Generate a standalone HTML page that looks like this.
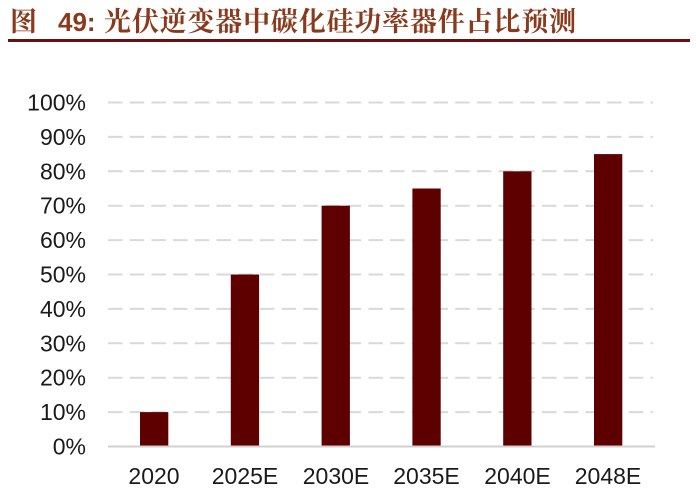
<!DOCTYPE html>
<html><head><meta charset="utf-8">
<style>
html,body{margin:0;padding:0;background:#fff;}
body{width:696px;height:502px;overflow:hidden;position:relative;}
svg{position:absolute;left:0;top:0;}
</style></head>
<body>
<svg width="696" height="502" viewBox="0 0 696 502" xmlns="http://www.w3.org/2000/svg">
  <rect width="696" height="502" fill="#fff"/>
  <!-- title -->
  <text x="10" y="31" font-family="'Noto Serif CJK SC','Noto Sans CJK SC',serif" font-weight="700" font-size="27" fill="#8a3a1c">图</text>
  <text x="58" y="31" font-family="'Liberation Sans',sans-serif" font-weight="700" font-size="26" fill="#8a3a1c">49:</text>
  <text x="104" y="31" font-family="'Liberation Sans','Noto Serif CJK SC',serif" font-weight="700" font-size="27" textLength="472" lengthAdjust="spacing" fill="#8a3a1c">光伏逆变器中碳化硅功率器件占比预测</text>
  <rect x="8" y="39" width="682" height="3" fill="#6a1010"/>

  <!-- gridlines -->
  <g stroke="#d9d9d9" stroke-width="2" stroke-dasharray="14.5,7.2">
    <line x1="108" y1="102.5" x2="653" y2="102.5"/>
    <line x1="108" y1="136.9" x2="653" y2="136.9"/>
    <line x1="108" y1="171.3" x2="653" y2="171.3"/>
    <line x1="108" y1="205.7" x2="653" y2="205.7"/>
    <line x1="108" y1="240.1" x2="653" y2="240.1"/>
    <line x1="108" y1="274.5" x2="653" y2="274.5"/>
    <line x1="108" y1="308.9" x2="653" y2="308.9"/>
    <line x1="108" y1="343.3" x2="653" y2="343.3"/>
    <line x1="108" y1="377.7" x2="653" y2="377.7"/>
    <line x1="108" y1="412.1" x2="653" y2="412.1"/>
  </g>

  <!-- bars -->
  <g fill="#5e0000">
    <rect x="140" y="412.1" width="28.3" height="34.4"/>
    <rect x="230.8" y="274.5" width="28.3" height="172"/>
    <rect x="321.6" y="205.7" width="28.3" height="240.8"/>
    <rect x="412.4" y="188.5" width="28.3" height="258"/>
    <rect x="503.2" y="171.3" width="28.3" height="275.2"/>
    <rect x="594" y="154.1" width="28.3" height="292.4"/>
  </g>

  <!-- axis -->
  <line x1="108" y1="446.5" x2="655" y2="446.5" stroke="#d0d0d0" stroke-width="2"/>

  <!-- y labels -->
  <g font-family="'Liberation Sans',sans-serif" font-size="23" fill="#1a1a1a" text-anchor="end">
    <text x="86" y="110.5">100%</text>
    <text x="86" y="144.9">90%</text>
    <text x="86" y="179.3">80%</text>
    <text x="86" y="213.7">70%</text>
    <text x="86" y="248.1">60%</text>
    <text x="86" y="282.5">50%</text>
    <text x="86" y="316.9">40%</text>
    <text x="86" y="351.3">30%</text>
    <text x="86" y="385.7">20%</text>
    <text x="86" y="420.1">10%</text>
    <text x="86" y="454.5">0%</text>
  </g>

  <!-- x labels -->
  <g font-family="'Liberation Sans',sans-serif" font-size="23" fill="#1a1a1a" text-anchor="middle">
    <text x="154" y="484">2020</text>
    <text x="245" y="484">2025E</text>
    <text x="336" y="484">2030E</text>
    <text x="426.5" y="484">2035E</text>
    <text x="517.5" y="484">2040E</text>
    <text x="608" y="484">2048E</text>
  </g>
</svg>
</body></html>
